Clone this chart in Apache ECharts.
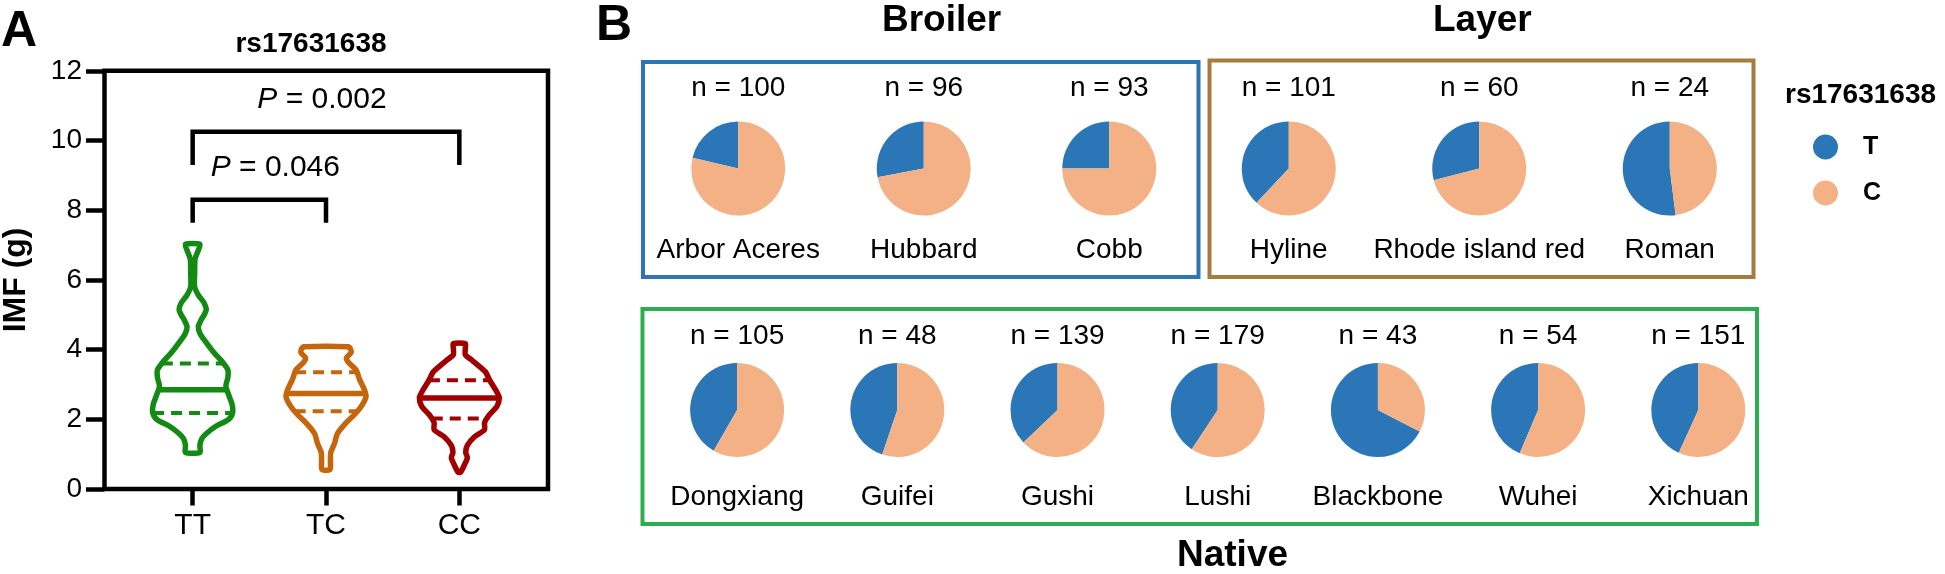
<!DOCTYPE html>
<html><head><meta charset="utf-8">
<script src="https://cdn.jsdelivr.net/npm/echarts@6/dist/echarts.min.js"></script>
<style>html,body{margin:0;padding:0;background:#fff}#c{width:1945px;height:574px}</style>
</head><body><div id="c"></div>
<script>
// ================= DATA =================
// Panel A : IMF (g) by rs17631638 genotype (violin outlines: level -> relative half width)
const genotypes = ['TT', 'TC', 'CC'];
const ttLevels = [1.05, 1.25, 1.45, 1.6, 1.8, 2.0, 2.2, 2.45, 2.7, 2.95, 3.2, 3.42, 3.65, 3.9, 4.2, 4.45, 4.65, 4.85, 5.0, 5.15, 5.35, 5.55, 5.8, 6.2, 6.6, 6.85, 7.02];
const ttWidths = [0.18, 0.18, 0.23, 0.35, 0.58, 0.9, 1.0, 0.98, 0.9, 0.83, 0.88, 0.88, 0.74, 0.54, 0.34, 0.19, 0.14, 0.21, 0.29, 0.34, 0.28, 0.15, 0.05, 0.05, 0.06, 0.14, 0.18];
const tcLevels = [0.56, 0.8, 1.05, 1.3, 1.6, 1.9, 2.18, 2.42, 2.66, 2.85, 3.14, 3.42, 3.62, 3.76, 3.9, 4.0, 4.08];
const tcWidths = [0.1, 0.11, 0.12, 0.21, 0.29, 0.5, 0.75, 0.91, 1.0, 0.96, 0.84, 0.75, 0.57, 0.51, 0.62, 0.62, 0.55];
const ccLevels = [0.48, 0.7, 0.9, 1.05, 1.25, 1.5, 1.7, 1.9, 2.1, 2.37, 2.62, 2.8, 2.95, 3.14, 3.35, 3.52, 3.71, 3.85, 4.05, 4.17];
const ccWidths = [0.03, 0.13, 0.2, 0.16, 0.2, 0.38, 0.63, 0.63, 0.73, 0.94, 1.0, 0.93, 0.85, 0.75, 0.66, 0.5, 0.3, 0.15, 0.15, 0.15];
const medianIMF = [2.85, 2.74, 2.61];
const q1IMF = [2.18, 2.23, 2.02];
const q3IMF = [3.60, 3.35, 3.12];
const compPairs = [[0, 1], [0, 2]];
const compBarLevel = [8.3, 10.25];
const compLegLevel = [7.64, 9.3];
const compP = ['0.046', '0.002'];

// Panel B : allele frequency (T) per breed
const alleles = ['T', 'C'];
const broilerBreeds = ['Arbor Aceres', 'Hubbard', 'Cobb'];
const broilerN = [100, 96, 93];
const broilerT = [0.213, 0.28, 0.25];
const layerBreeds = ['Hyline', 'Rhode island red', 'Roman'];
const layerN = [101, 60, 24];
const layerT = [0.38, 0.29, 0.52];
const nativeBreeds = ['Dongxiang', 'Guifei', 'Gushi', 'Lushi', 'Blackbone', 'Wuhei', 'Xichuan'];
const nativeN = [105, 48, 139, 179, 43, 54, 151];
const nativeT = [0.417, 0.448, 0.371, 0.407, 0.674, 0.436, 0.432];

// ================= STYLE / LAYOUT =================
const FONT = '"Liberation Sans", Arial, Helvetica, sans-serif';
const violinColors = ['#128a14', '#c6660c', '#a10000'];
const alleleColors = ['#2a76b7', '#f4b186'];
const pLabelDx = [16, -4];
const groups = [
  {breeds: broilerBreeds, n: broilerN, t: broilerT, left: 645.5, band: 185.5, cy: 168.5, nY: 88, nameY: 250},
  {breeds: layerBreeds, n: layerN, t: layerT, left: 1193.5, band: 190.5, cy: 168.5, nY: 88, nameY: 250},
  {breeds: nativeBreeds, n: nativeN, t: nativeT, left: 657, band: 160.2, cy: 410, nY: 336, nameY: 497}
];
const violinProfiles = [[ttLevels, ttWidths], [tcLevels, tcWidths], [ccLevels, ccWidths]];

function widthAt(levels, widths, v) {
  for (let k = 0; k < levels.length - 1; k++) {
    if (v >= levels[k] && v <= levels[k + 1]) {
      const f = (v - levels[k]) / (levels[k + 1] - levels[k]);
      return widths[k] + f * (widths[k + 1] - widths[k]);
    }
  }
  return 0;
}

const chart = echarts.init(document.getElementById('c'), null, {renderer: 'canvas'});

const series = [];

// violins
series.push({
  type: 'custom', xAxisIndex: 1, yAxisIndex: 1, silent: true,
  data: genotypes.map((g, i) => [i, medianIMF[i], q1IMF[i], q3IMF[i]]),
  encode: {x: 0, y: 1},
  renderItem: function (params, api) {
    const i = api.value(0);
    const [lv, wd] = violinProfiles[i];
    const cx = api.coord([i, 0])[0];
    const half = api.size([1, 0])[0] * 0.3;
    const left = [], right = [];
    for (let k = 0; k < lv.length; k++) {
      const y = api.coord([i, lv[k]])[1];
      left.push([cx - wd[k] * half, y]);
      right.unshift([cx + wd[k] * half, y]);
    }
    const col = violinColors[i];
    const children = [{
      type: 'polygon', shape: {points: left.concat(right), smooth: 0.25},
      style: {fill: 'none', stroke: col, lineWidth: 5.5, lineJoin: 'round'}
    }];
    const lines = [[api.value(1), false], [api.value(2), true], [api.value(3), true]];
    lines.forEach(([v, dashed]) => {
      const w = widthAt(lv, wd, v) * half;
      const y = api.coord([i, v])[1];
      children.push({
        type: 'line', shape: {x1: cx - w, y1: y, x2: cx + w, y2: y},
        style: {stroke: col, lineWidth: dashed ? 4 : 5.5, lineDash: dashed ? [11, 7] : null}
      });
    });
    return {type: 'group', children: children};
  }
});

// significance brackets
series.push({
  type: 'custom', xAxisIndex: 1, yAxisIndex: 1, silent: true,
  data: compPairs.map((p, k) => [p[0], p[1], compBarLevel[k], compLegLevel[k], k]),
  encode: {x: 0, y: 2},
  renderItem: function (params, api) {
    const a = api.value(0), b = api.value(1), top = api.value(2), leg = api.value(3), k = api.value(4);
    const x1 = api.coord([a, 0])[0], x2 = api.coord([b, 0])[0];
    const yT = api.coord([a, top])[1], yL = api.coord([a, leg])[1];
    return {type: 'group', children: [
      {type: 'polyline', shape: {points: [[x1, yL], [x1, yT], [x2, yT], [x2, yL]]},
       style: {fill: 'none', stroke: '#000', lineWidth: 4.5, lineJoin: 'miter'}},
      {type: 'text', x: (x1 + x2) / 2 + pLabelDx[k], y: yT - 32,
       style: {text: '{i|P} = ' + compP[k], fill: '#000', font: '30px ' + FONT,
               align: 'center', verticalAlign: 'middle',
               rich: {i: {fontStyle: 'italic', fontSize: 30, fontFamily: FONT, fill: '#000'}}}}
    ]};
  }
});

// pies
groups.forEach(g => {
  g.breeds.forEach((name, i) => {
    series.push({
      type: 'pie', name: name, silent: true,
      center: [g.left + g.band * (i + 0.5), g.cy], radius: 47,
      startAngle: 90, clockwise: false,
      label: {show: false}, labelLine: {show: false},
      itemStyle: {borderWidth: 0},
      emphasis: {disabled: true},
      data: [
        {name: alleles[0], value: g.t[i], itemStyle: {color: alleleColors[0]}},
        {name: alleles[1], value: +(1 - g.t[i]).toFixed(3), itemStyle: {color: alleleColors[1]}}
      ]
    });
  });
});

// texts and boxes
const graphic = [];
function txt(text, x, y, size, weight, align) {
  graphic.push({type: 'text', x: x, y: y, silent: true,
    style: {text: text, fill: '#000', font: (weight || 'normal') + ' ' + size + 'px ' + FONT,
            align: align || 'center', verticalAlign: 'middle'}});
}
groups.forEach(g => {
  g.breeds.forEach((name, i) => {
    const cx = g.left + g.band * (i + 0.5);
    txt('n = ' + g.n[i], cx, g.nY, 28);
    txt(name, cx, g.nameY, 28);
  });
});
function box(x, y, w, h, color) {
  graphic.push({type: 'rect', silent: true, shape: {x: x, y: y, width: w, height: h},
    style: {fill: 'none', stroke: color, lineWidth: 4}});
}
box(643, 62, 555.5, 215, '#2e75b6');
box(1209.5, 60.5, 544, 216.5, '#a67b3d');
box(642.5, 309, 1114.5, 215, '#2aae4f');
txt('A', 1, 32, 50, 'bold', 'left');
txt('B', 596, 26, 50, 'bold', 'left');
txt('rs17631638', 311, 44, 28, 'bold');
txt('Broiler', 882, 21, 37, 'bold', 'left');
txt('Layer', 1433, 21, 37, 'bold', 'left');
txt('Native', 1177, 556, 37, 'bold', 'left');
txt('rs17631638', 1785, 95, 28, 'bold', 'left');

chart.setOption({
  animation: false,
  backgroundColor: '#fff',
  textStyle: {fontFamily: FONT},
  grid: [
    {left: 104.5, top: 70.8, width: 443.5, height: 418.2, show: true, borderWidth: 4.5, borderColor: '#000', backgroundColor: 'transparent', containLabel: false, outerBoundsMode: 'none'},
    {left: 126, top: 70.8, width: 400, height: 418.2, containLabel: false, outerBoundsMode: 'none'}
  ],
  xAxis: [
    {gridIndex: 0, type: 'value', min: 0, max: 1, show: false},
    {gridIndex: 1, type: 'category', data: genotypes,
     axisLine: {show: false},
     axisTick: {show: true, alignWithLabel: true, length: 16.5, lineStyle: {width: 4.5, color: '#000'}},
     axisLabel: {fontSize: 30, color: '#000', margin: 22, fontFamily: FONT},
     splitLine: {show: false}}
  ],
  yAxis: [
    {gridIndex: 0, type: 'value', min: 0, max: 12, interval: 2,
     axisLine: {show: false},
     axisTick: {show: true, inside: false, length: 18.5, lineStyle: {width: 4.5, color: '#000'}},
     axisLabel: {fontSize: 28, color: '#000', margin: 22.5, fontFamily: FONT},
     splitLine: {show: false},
     name: 'IMF (g)', nameLocation: 'middle', nameGap: 72,
     nameTextStyle: {fontSize: 32, fontWeight: 'bold', color: '#000', fontFamily: FONT}},
    {gridIndex: 1, type: 'value', min: 0, max: 12, show: false}
  ],
  legend: {
    data: alleles, orient: 'vertical', left: 1813, top: 134.5, padding: 0,
    itemWidth: 25, itemHeight: 25, itemGap: 21, icon: 'circle', selectedMode: false,
    textStyle: {fontSize: 25, fontWeight: 'bold', color: '#000', fontFamily: FONT, padding: [0, 0, 0, 20], lineHeight: 25}
  },
  graphic: graphic,
  series: series
});
</script></body></html>
